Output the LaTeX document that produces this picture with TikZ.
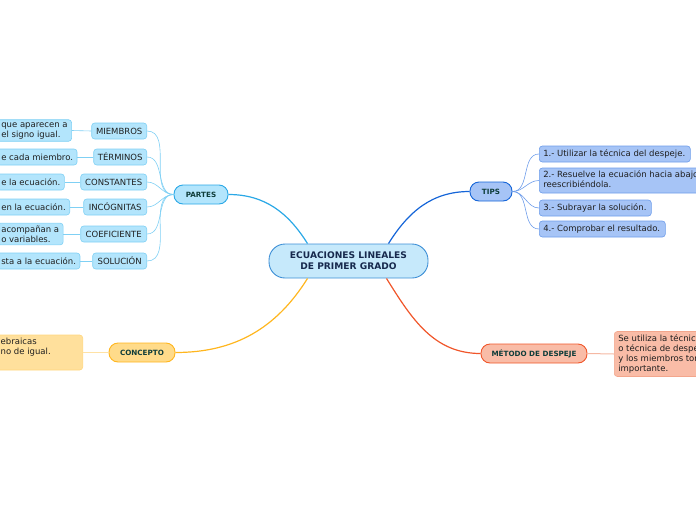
\documentclass[tikz,border=0pt]{standalone}
\usepackage{fontspec}
\setmainfont{DejaVu Sans}
\definecolor{mainfill}{HTML}{C6E9FB}
\definecolor{mainline}{HTML}{3D8FD6}
\definecolor{maintext}{HTML}{17294D}
\definecolor{toptext}{HTML}{0F3D3A}
\definecolor{pfill}{HTML}{B3E5FC}
\definecolor{pline}{HTML}{2AA8E6}
\definecolor{psub}{HTML}{7FD0F4}
\definecolor{tfill}{HTML}{A6C4F6}
\definecolor{tline}{HTML}{1565D8}
\definecolor{tsub}{HTML}{6E9DEA}
\definecolor{cfill}{HTML}{FFDB8A}
\definecolor{cline}{HTML}{FFB61E}
\definecolor{csub}{HTML}{FFD67E}
\definecolor{mfill}{HTML}{F9BCA7}
\definecolor{mline}{HTML}{F0562A}
\definecolor{msub}{HTML}{F3A68C}
% left aligned lines in a box of fixed width
\newcommand\lbox[2]{\makebox[#1][l]{\begin{tabular}{@{}l@{}}#2\end{tabular}}}
\begin{document}
\begin{tikzpicture}[x=1pt,y=-1pt,
  mainbox/.style={draw=mainline, fill=mainfill, line width=0.9pt, rounded corners=16pt,
    minimum width=159pt, minimum height=34pt, align=center, text=maintext,
    font=\fontsize{9.1}{11}\selectfont\bfseries},
  topic/.style={rounded corners=9pt, line width=0.9pt, minimum height=19pt,
    text=toptext, font=\fontsize{7.2}{8.5}\selectfont\bfseries},
  sub/.style={rounded corners=3pt, line width=0.6pt, minimum height=16pt,
    inner xsep=4pt, inner ysep=2.5pt, text=black!88,
    font=\fontsize{8.5}{10}\selectfont},
  psubbox/.style={sub, draw=psub, fill=pfill},
  pleaf/.style={psubbox, anchor=west, align=left},
  tsubbox/.style={sub, draw=tsub, fill=tfill},
  plink/.style={draw=psub, line width=0.6pt},
  tlink/.style={draw=tsub, line width=0.6pt}]
\useasboundingbox (0,0) rectangle (696,520);
\clip (0,0) rectangle (696,520);
\node[mainbox] (mid0) at (348.5,261) {ECUACIONES LINEALES\\DE PRIMER GRADO};
% partes
\node[topic, draw=pline, fill=pfill, minimum width=54pt] (par0) at (201,194.5) {PARTES};
\node[psubbox, anchor=east, minimum width=55pt] (par1) at (147,131) {MIEMBROS};
\node[psubbox, anchor=east, minimum width=53pt] (par2) at (147,157) {TÉRMINOS};
\node[psubbox, anchor=east, minimum width=66pt] (par3) at (147,182) {CONSTANTES};
\node[psubbox, anchor=east, minimum width=63pt] (par4) at (147,207) {INCÓGNITAS};
\node[psubbox, anchor=east, minimum width=66pt] (par5) at (147,234) {COEFICIENTE};
\node[psubbox, anchor=east, minimum width=54pt] (par6) at (147,261) {SOLUCIÓN};
\node[pleaf] (lf1) at (-3,130.5) {que aparecen a\\el signo igual.};
\node[pleaf] (lf2) at (-3,157) {e cada miembro.};
\node[pleaf] (lf3) at (-3,182) {e la ecuación.};
\node[pleaf] (lf4) at (-3,207) {en la ecuación.};
\node[pleaf] (lf5) at (-3,234) {acompañan a\\o variables.};
\node[pleaf] (lf6) at (-3,261) {sta a la ecuación.};
\draw[pline, line width=1.2pt] ([xshift=-41pt]mid0.north) to[out=122,in=0] (par0.east);
\foreach \i in {1,...,6}{
  \draw[plink] (par0.west) to[out=180,in=0] (par\i.east);
  \draw[plink] (par\i.west) -- (lf\i.east);
}
% tips
\node[topic, draw=tline, fill=tfill, minimum width=42pt] (tip0) at (491,191.5) {TIPS};
\node[tsubbox, anchor=west] (tip1) at (539,154) {\lbox{143pt}{1.- Utilizar la técnica del despeje.}};
\node[tsubbox, anchor=west] (tip2) at (539,180.5) {\lbox{180pt}{2.- Resuelve la ecuación hacia abajo\\reescribiéndola.}};
\node[tsubbox, anchor=west] (tip3) at (539,208) {\lbox{104pt}{3.- Subrayar la solución.}};
\node[tsubbox, anchor=west] (tip4) at (539,229) {\lbox{118pt}{4.- Comprobar el resultado.}};
\draw[tline, line width=1.2pt] ([xshift=40pt]mid0.north) to[out=58,in=180] (tip0.west);
\foreach \i in {1,...,4}
  \draw[tlink] (tip0.east) to[out=0,in=180] (tip\i.west);
% concepto
\node[topic, draw=cline, fill=cfill, minimum width=66pt] (con0) at (142,352.5) {CONCEPTO};
\node[sub, draw=csub, fill=cfill!85!white, anchor=east] (con1) at (83,352.5) {\lbox{78pt}{ebraicas\\no de igual.\\\mbox{}}};
\draw[cline, line width=1.2pt] ([xshift=-41pt]mid0.south) to[out=-122,in=0] (con0.east);
\draw[draw=csub!70!white, line width=1pt] (con0.west) -- (con1.east);
% metodo
\node[topic, draw=mline, fill=mfill, minimum width=106pt] (met0) at (534,353.5) {MÉTODO DE DESPEJE};
\node[sub, draw=msub, fill=mfill, anchor=west] (met1) at (614,354) {\lbox{110pt}{Se utiliza la técnica\\o técnica de despeje\\y los miembros toman\\importante.}};
\draw[mline, line width=1.2pt] ([xshift=38pt]mid0.south) to[out=-58,in=180] (met0.west);
\draw[draw=msub!80!white, line width=1pt] (met0.east) -- (met1.west);
\end{tikzpicture}
\end{document}
